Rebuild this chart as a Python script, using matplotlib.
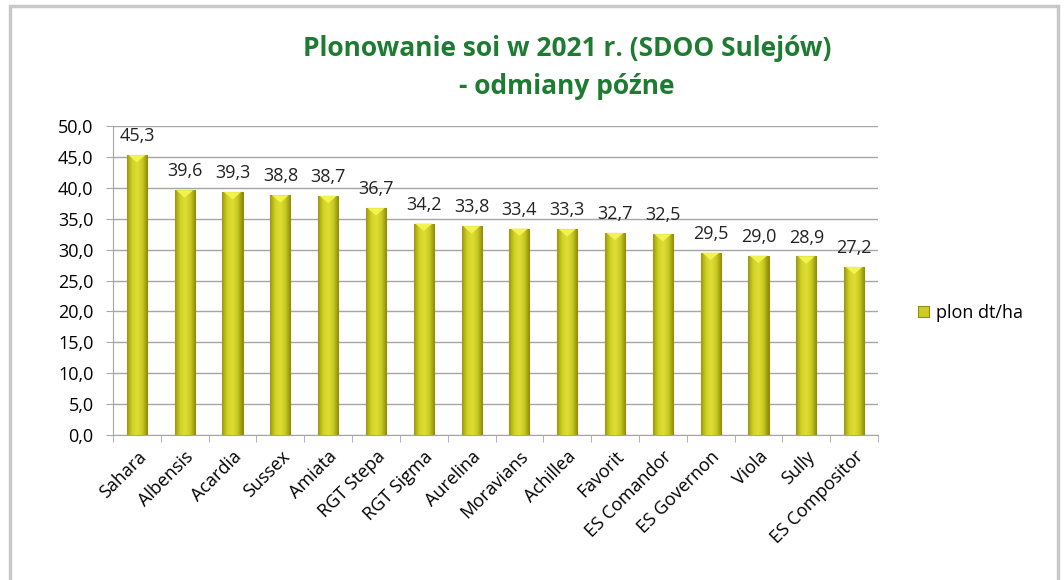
import numpy as np
import matplotlib
matplotlib.use("Agg")
from matplotlib import pyplot as plt
from matplotlib.patches import Rectangle, Polygon
from matplotlib.colors import LinearSegmentedColormap

plt.rcParams['font.family'] = ['Open Sans', 'DejaVu Sans']

varieties = ["Sahara", "Albensis", "Acardia", "Sussex", "Amiata", "RGT Stepa",
             "RGT Sigma", "Aurelina", "Moravians", "Achillea", "Favorit",
             "ES Comandor", "ES Governon", "Viola", "Sully", "ES Compositor"]
yields = [45.3, 39.6, 39.3, 38.8, 38.7, 36.7, 34.2, 33.8, 33.4, 33.3, 32.7,
          32.5, 29.5, 29.0, 28.9, 27.2]
yticks = np.arange(0, 55, 5)

fig = plt.figure(figsize=(10.64, 5.8), dpi=100)
ax = fig.add_axes([113 / 1064, 1 - 435 / 580, 765 / 1064, 309 / 580])

x = np.arange(len(varieties))
bars = ax.bar(x, yields, width=0.42, color='#cccc22', edgecolor='#8f8f10',
              linewidth=0.8, zorder=3, label='plon dt/ha')

# horizontal shading inside each bar (cylinder-like look)
cmap = LinearSegmentedColormap.from_list('bar', ['#9a9a12', '#d2d226', '#dede34', '#c8c81e', '#8a8a10'])
grad = np.linspace(0, 1, 64).reshape(1, -1)
for b in bars:
    bx, bw, bh = b.get_x(), b.get_width(), b.get_height()
    im = ax.imshow(grad, cmap=cmap, extent=(bx, bx + bw, 0, bh), aspect='auto', zorder=3.5)
    im.set_clip_path(b)
    ax.add_patch(Polygon([(bx + bw * 0.08, bh), (bx + bw * 0.92, bh), (bx + bw * 0.5, bh - 1.2)],
                         closed=True, facecolor='#f2f250', edgecolor='none', zorder=3.6))

for xi, v in zip(x, yields):
    ax.text(xi, v + 1.6, f"{v:.1f}".replace('.', ','), ha='center', va='bottom',
            fontsize=13, color='#222222', zorder=5)

ax.set_xlim(-0.5, len(varieties) - 0.5)
ax.set_ylim(0, 50)
ax.set_yticks(yticks)
ax.set_yticklabels([f"{t:.1f}".replace('.', ',') for t in yticks], fontsize=13)
ax.grid(axis='y', color='#a6a6a6', linewidth=1, zorder=0)
ax.set_axisbelow(True)

ax.set_xticks(x)
ax.set_xticklabels(varieties, rotation=45, ha='right', rotation_mode='anchor', fontsize=13)
ax.set_xticks(np.arange(-0.5, len(varieties)), minor=True)
ax.tick_params(axis='x', which='major', length=0, pad=9)
ax.tick_params(axis='x', which='minor', length=5, color='#a6a6a6')
ax.tick_params(axis='y', length=5, color='#a6a6a6', pad=9)

for s in ['top', 'right']:
    ax.spines[s].set_visible(False)
for s in ['left', 'bottom']:
    ax.spines[s].set_color('#a6a6a6')

fig.text(0.533, 0.884, "Plonowanie soi w 2021 r. (SDOO Sulejów)\n- odmiany późne",
         ha='center', va='center', fontsize=19, fontweight='bold',
         color='#1e7b32', linespacing=1.5)

ax.legend(loc='center left', bbox_to_anchor=(902 / 1064, 1 - 313 / 580),
          bbox_transform=fig.transFigure, frameon=False, fontsize=13,
          handlelength=0.6, handleheight=0.6, handletextpad=0.4)

fig.add_artist(Rectangle((10 / 1064, -0.05), 1048 / 1064, 1.05 - 6 / 580,
                         transform=fig.transFigure, fill=False,
                         edgecolor='#c8c8c8', linewidth=2.5))

fig.savefig("out.png", dpi=100)
